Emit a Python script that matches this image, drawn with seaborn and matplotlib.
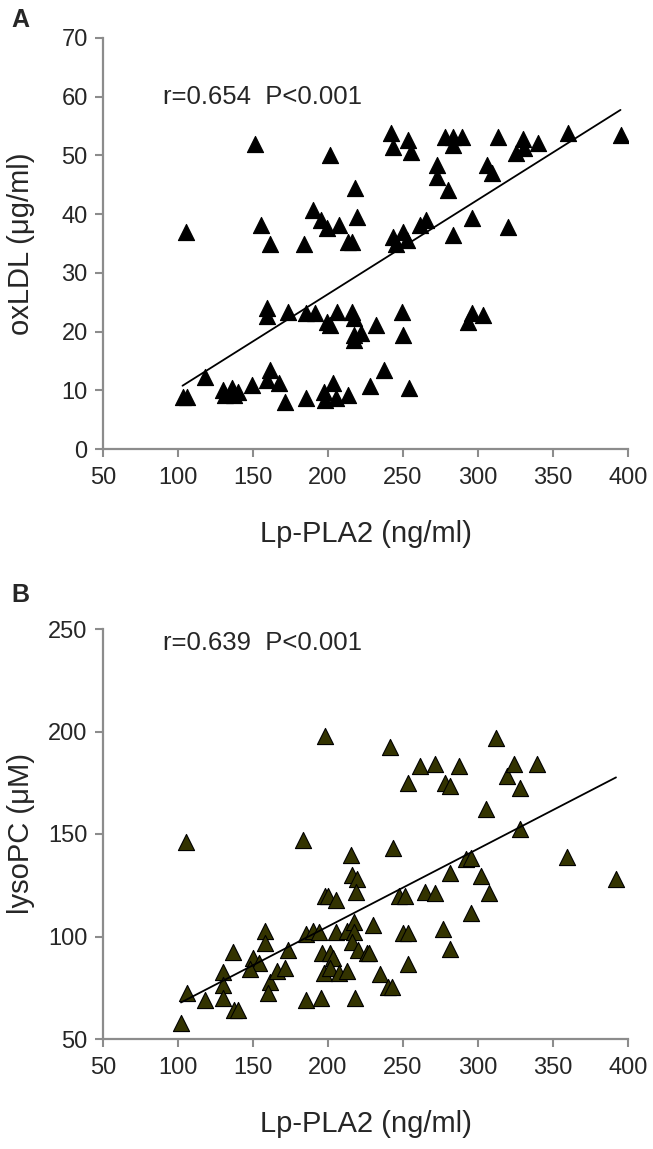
import seaborn as sns
import pandas as pd
import numpy as np
import matplotlib.pyplot as plt

# Panel A: Lp-PLA2 vs oxLDL
lp_a = [105, 151, 201, 218, 219, 190, 195, 199, 207, 155, 161, 184, 213, 216,
        159, 159, 173, 185, 191, 199, 201, 206, 216, 217, 217.5, 217, 222,
        103, 106, 118, 130, 131, 136, 137, 140, 149, 159, 161, 167, 171, 185,
        197, 198, 203, 205, 213, 228,
        242, 243.5, 253.5, 255, 278, 283.5, 283.5, 289, 313, 325, 330, 330.5,
        340, 360, 395, 272.5, 272.5, 306, 309, 280, 296, 265, 261, 320, 283,
        243, 250, 252.5, 245, 232, 249, 250, 293, 296, 303, 237, 254]
oxldl = [37, 52, 50, 44.5, 39.5, 40.7, 39, 37.6, 38.2, 38.2, 35, 35, 35.3, 35.3,
         24, 22.6, 23.3, 23.2, 23.2, 21.7, 21.1, 23.3, 23.3, 22.3, 19.4, 18.6, 19.8,
         8.9, 8.9, 12.3, 10, 9.2, 10.4, 9.2, 9.7, 10.9, 11.7, 13.5, 11.2, 8, 8.7,
         9.7, 8.3, 11.2, 8.7, 9.2, 10.7,
         53.8, 51.5, 52.6, 50.6, 53.2, 53.2, 51.8, 53.2, 53.2, 50.4, 52.8, 51.3,
         52.1, 53.8, 53.5, 48.4, 46.3, 48.4, 47, 44.1, 39.3, 39, 38.2, 37.8, 36.5,
         36.1, 37, 35.6, 35, 21.1, 23.3, 19.4, 21.6, 23.2, 22.8, 13.5, 10.4]

# Panel B: Lp-PLA2 vs lysoPC
lp_b = [105, 198, 183, 215, 216, 219, 218.5, 198, 200, 205, 158, 158, 173.5, 185,
        190, 194, 205, 212.5, 217, 217, 216, 220, 226, 136.5, 150, 154, 148, 130,
        130, 130, 118, 106, 102, 137, 140, 161, 160, 166, 171, 185, 195, 218, 196,
        201, 203.5, 197, 201, 207, 212.5,
        241, 312, 261, 271, 287, 253.5, 278, 281, 319, 324, 328, 339, 305, 328,
        359, 392, 243, 292, 295, 281, 302, 307.5, 295, 247, 251, 264.5, 271, 230,
        250, 253.5, 276.5, 281, 227.5, 253.5, 234.5, 240, 242.5]
lysopc = [146, 198, 147, 140, 130, 128, 121.5, 120, 120, 118, 102.5, 97, 93.5, 101,
          102.5, 102, 102, 102.5, 107, 102, 97.5, 93.5, 92, 92.5, 89.5, 87, 84, 82.5,
          76.5, 70, 69, 72.5, 58, 64, 64, 78, 72.5, 83, 84.5, 69, 70, 70, 92,
          92, 89.5, 82, 84.5, 82, 83,
          192.5, 197, 183, 184, 183, 175, 175, 173.5, 178.5, 184, 172.5, 184, 162, 152.5,
          139, 128, 143, 138, 138.5, 131, 129.5, 121, 111.5, 120, 120, 121.5, 121, 105.5,
          101.5, 101.5, 103.5, 94, 92, 86.5, 81.5, 75.5, 75.5]

df_a = pd.DataFrame({"lp": lp_a, "val": oxldl})
df_b = pd.DataFrame({"lp": lp_b, "val": lysopc})

sns.set_style("ticks")
plt.rcParams['font.family'] = ['Liberation Sans', 'DejaVu Sans']

W, H = 653, 1149
fig = plt.figure(figsize=(W / 100, H / 100), dpi=100)
ax_a = fig.add_axes([103 / W, 1 - 449 / H, 525 / W, 411 / H])
ax_b = fig.add_axes([103 / W, 1 - 1039 / H, 525 / W, 410 / H])

grey = "#8c8c8c"
panels = [
    (ax_a, df_a, "black", "oxLDL (\u03bcg/ml)", (0, 70), np.arange(0, 71, 10),
     "r=0.654  P<0.001", 0.856, "A", 20),
    (ax_b, df_b, "#333300", "lysoPC (\u03bcM)", (50, 250), np.arange(50, 251, 50),
     "r=0.639  P<0.001", 0.966, "B", 595),
]

for ax, df, fc, ylab, ylim, yticks, note, note_y, letter, letter_y in panels:
    sns.regplot(data=df, x="lp", y="val", ax=ax, ci=None, marker="^",
                scatter_kws=dict(s=135, color=fc, edgecolor="black", linewidths=0.8, alpha=1),
                line_kws=dict(color="black", lw=1.3))
    ax.set_xlim(50, 400)
    ax.set_ylim(*ylim)
    ax.set_xticks(np.arange(50, 401, 50))
    ax.set_yticks(yticks)
    ax.set_xlabel("Lp-PLA2 (ng/ml)", fontsize=21)
    ax.set_ylabel(ylab, fontsize=21)
    ax.xaxis.set_label_coords(0.5, -71 / 411)
    ax.yaxis.set_label_coords(-68 / 525, 0.5)
    ax.tick_params(labelsize=17, color=grey, length=6, width=1.5)
    ax.tick_params(axis="x", pad=7)
    ax.tick_params(axis="y", pad=5)
    for side in ["left", "bottom"]:
        ax.spines[side].set_color(grey)
        ax.spines[side].set_linewidth(1.6)
    sns.despine(ax=ax)
    ax.text(60 / 525, note_y, note, transform=ax.transAxes, fontsize=18.5,
            ha="left", va="center")
    fig.text(20 / W, 1 - letter_y / H, letter, fontsize=18, fontweight="bold",
             ha="center", va="center")

fig.savefig("out.png", dpi=100)
